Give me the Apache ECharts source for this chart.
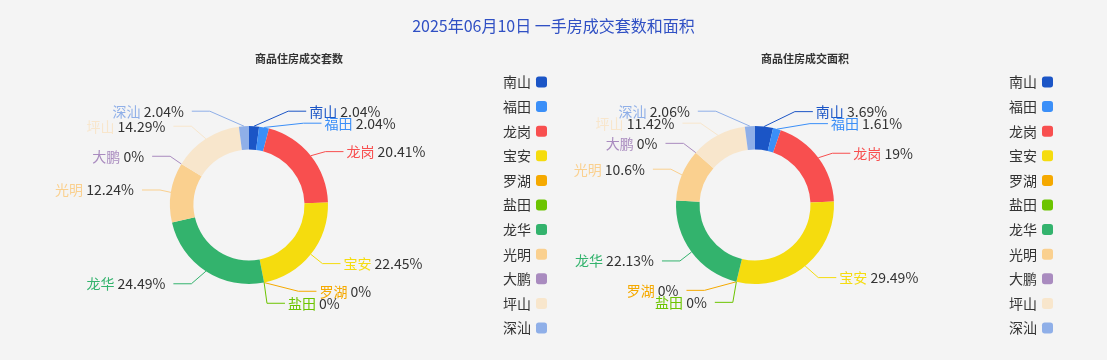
<!DOCTYPE html>
<html><head><meta charset="utf-8">
<script src="https://cdn.jsdelivr.net/npm/echarts@6/dist/echarts.min.js"></script>
<style>html,body{margin:0;padding:0;background:#f4f4f4}#c{width:1107px;height:360px}</style>
</head><body><div id="c"></div>
<script>
const districts = ['南山','福田','龙岗','宝安','罗湖','盐田','龙华','光明','大鹏','坪山','深汕'];
const colors = ['#1b55c6','#3b8ff8','#f84f4f','#f5dc0e','#f5a900','#6cc400','#33b36d','#fad08f','#a98bbf','#f8e6cc','#8fafe8'];
const unitsSold = [1,1,10,11,0,0,12,6,0,7,1];
const areaShare = [3.69,1.61,19,29.49,0,0,22.13,10.6,0,11.42,2.06];
const mainTitle = '2025年06月10日 一手房成交套数和面积';
const subTitles = ['商品住房成交套数','商品住房成交面积'];

const font = '"Noto Sans CJK SC", "Noto Sans", sans-serif';
const R_IN = 55.5, R_OUT = 79, CY = 205, CENTERS = [249, 755];
const LEN = 15, LEN2 = 18, DIST = 4, LABEL_H = 12, VIEW_H = 360;
const TEXT_SHIFT_L = -4, TEXT_SHIFT_R = -1;

// Classic (v4-style) outer-label layout computed from the pie's own geometry
function classicLabelLayout(values, cx, cy, r) {
  const sum = values.reduce((a, b) => a + b, 0);
  let ang = -Math.PI / 2;
  const items = values.map((v, i) => {
    const span = sum ? v / sum * Math.PI * 2 : 0;
    const mid = ang + span / 2; ang += span;
    const dx = Math.cos(mid), dy = Math.sin(mid);
    const x1 = cx + r * dx, y1 = cy + r * dy;
    const x2 = cx + (r + LEN) * dx, y2 = cy + (r + LEN) * dy;
    const s = dx < 0 ? -1 : 1;
    const x3 = x2 + s * LEN2;
    return {i, x: x3 + s * DIST, y: y2, height: LABEL_H, align: dx < 0 ? 'right' : 'left',
      pts: [[x1, y1], [x2, y2], [x3, y2]]};
  });
  const left = [], right = [];
  items.forEach(it => (it.x < cx ? left : right).push(it));
  function adjust(list, dir) {
    list.sort((a, b) => a.y - b.y);
    function shiftDown(start, end, delta) {
      for (let j = start; j < end; j++) {
        if (list[j].y + delta > VIEW_H) break;
        list[j].y += delta;
        if (j > start && j + 1 < end && list[j + 1].y > list[j].y + list[j].height) { shiftUp(j, delta / 2); return; }
      }
      shiftUp(end - 1, delta / 2);
    }
    function shiftUp(end, delta) {
      for (let j = end; j >= 0; j--) {
        if (list[j].y - delta < 0) break;
        list[j].y -= delta;
        if (j > 0 && list[j].y > list[j - 1].y + list[j - 1].height) break;
      }
    }
    function changeX(l, isDown) {
      let last = isDown ? Number.MAX_VALUE : 0;
      l.forEach(it => {
        const dyy = Math.abs(it.y - cy);
        let dxx = dyy < r + LEN ? Math.sqrt((r + LEN + LEN2) ** 2 - dyy * dyy) : Math.abs(it.x - cx);
        if (isDown && dxx >= last) dxx = last - 10;
        if (!isDown && dxx <= last) dxx = last + 10;
        it.x = cx + dxx * dir; last = dxx;
      });
    }
    let lastY = 0;
    for (let i = 0; i < list.length; i++) {
      const d = list[i].y - lastY;
      if (d < 0) shiftDown(i, list.length, -d);
      lastY = list[i].y + list[i].height;
    }
    const up = [], down = [];
    list.forEach(it => (it.y >= cy ? down : up).push(it));
    changeX(up, false); changeX(down, true);
  }
  adjust(right, 1); adjust(left, -1);
  items.forEach(it => {
    const p = it.pts, d0 = p[1][0] - p[2][0];
    const isLeft = it.x < cx;
    p[2][0] = isLeft ? it.x + DIST : it.x - DIST;
    p[1][0] = p[2][0] + d0;
    p[1][1] = p[2][1] = it.y;
    it.tx = it.x + (isLeft ? TEXT_SHIFT_L : TEXT_SHIFT_R);
  });
  return items;
}
const layouts = [classicLabelLayout(unitsSold, CENTERS[0], CY, R_OUT), classicLabelLayout(areaShare, CENTERS[1], CY, R_OUT)];

function mk(vals){ return districts.map((n,i)=>({name:n,value:vals[i],itemStyle:{color:colors[i]}})); }
function pie(vals, cx){
  return {
    type:'pie', radius:[R_IN, R_OUT], center:[cx, CY], startAngle:90,
    data: mk(vals),
    label:{show:true, formatter:'{b} {v|{d}%}', color:'inherit', fontSize:14, fontFamily:font,
      rich:{v:{color:'#333', fontSize:14, fontFamily:font}}},
    labelLine:{length:LEN, length2:LEN2},
    labelLayout: function (p) {
      const it = layouts[p.seriesIndex][p.dataIndex];
      return {x: it.tx, y: it.y, align: it.align, verticalAlign: 'middle', labelLinePoints: it.pts};
    },
    emphasis:{scale:false}
  };
}
function legend(left){
  return {orient:'vertical', left:left, top:70, align:'right', icon:'roundRect', itemWidth:11, itemHeight:11, itemGap:10.6,
    data:districts, textStyle:{color:'#333', fontSize:14, fontFamily:font}};
}
const chart = echarts.init(document.getElementById('c'));
chart.setOption({
  backgroundColor:'#f4f4f4',
  animation:false,
  title:[
    {text:mainTitle, left:'center', top:13, textStyle:{color:'#3050c4', fontSize:16, fontWeight:'normal', fontFamily:font}},
    {text:subTitles[0], left:294, top:48, textAlign:'center', textStyle:{color:'#333', fontSize:11, fontWeight:'bold', fontFamily:font}},
    {text:subTitles[1], left:800, top:48, textAlign:'center', textStyle:{color:'#333', fontSize:11, fontWeight:'bold', fontFamily:font}}
  ],
  legend:[legend(498), legend(1004)],
  series:[pie(unitsSold, CENTERS[0]), pie(areaShare, CENTERS[1])]
});
</script></body></html>
